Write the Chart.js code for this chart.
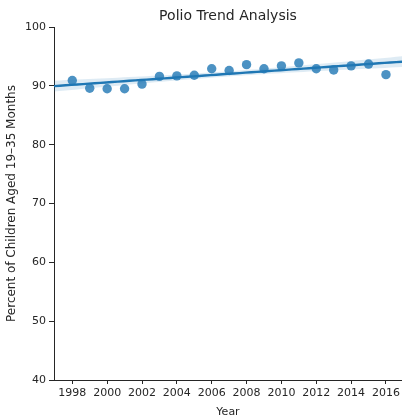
<!DOCTYPE html>
<html>
<head>
<meta charset="utf-8">
<script src="https://cdn.jsdelivr.net/npm/chart.js@4.4.1/dist/chart.umd.min.js"></script>
<style>
html,body{margin:0;padding:0;background:#fff;}
#wrap{width:402px;height:419px;}
</style>
</head>
<body>
<div id="wrap"><canvas id="c" width="402" height="419"></canvas></div>
<script>
const years = [1998,1999,2000,2001,2002,2003,2004,2005,2006,2007,2008,2009,2010,2011,2012,2013,2014,2015,2016];
const coverage = [90.9,89.6,89.5,89.5,90.3,91.6,91.7,91.8,92.9,92.6,93.6,92.9,93.4,93.9,92.9,92.7,93.4,93.7,91.9];
const xTicks = [1998,2000,2002,2004,2006,2008,2010,2012,2014,2016];
const yTicks = [40,50,60,70,80,90,100];
const xRange = [1996.95, 2016.92];
const yRange = [40, 100];

// least-squares fit with 95% confidence band (derived from the data)
const n = years.length;
const mx = years.reduce((a,b)=>a+b,0)/n;
const my = coverage.reduce((a,b)=>a+b,0)/n;
let sxx=0, sxy=0;
for(let i=0;i<n;i++){sxx+=(years[i]-mx)**2; sxy+=(years[i]-mx)*(coverage[i]-my);}
const slope = sxy/sxx, intercept = my - slope*mx;
let sse=0;
for(let i=0;i<n;i++){sse+=(coverage[i]-(intercept+slope*years[i]))**2;}
const s = Math.sqrt(sse/(n-2));
const tcrit = 2.11;
const grid = [];
for(let k=0;k<=60;k++){grid.push(xRange[0]+(xRange[1]-xRange[0])*k/60);}
const fitLine = grid.map(x=>({x, y: intercept+slope*x}));
const half = x => tcrit*s*Math.sqrt(1/n + (x-mx)**2/sxx);
const upper = grid.map(x=>({x, y: intercept+slope*x+half(x)}));
const lower = grid.map(x=>({x, y: intercept+slope*x-half(x)}));

const ink = '#262626';
const font = {family: 'DejaVu Sans', size: 11};

new Chart(document.getElementById('c'), {
  type: 'scatter',
  data: {
    datasets: [
      {label:'upper', data: upper, type:'line', borderWidth:0, pointRadius:0, fill:false, backgroundColor:'rgba(31,119,180,0.15)', order:3},
      {label:'lower', data: lower, type:'line', borderWidth:0, pointRadius:0, fill:'-1', backgroundColor:'rgba(31,119,180,0.15)', order:3},
      {label:'fit', data: fitLine, type:'line', borderColor:'#1f77b4', borderWidth:2.4, pointRadius:0, fill:false, order:2},
      {label:'Polio', data: years.map((y,i)=>({x:y, y:coverage[i]})), backgroundColor:'rgba(31,119,180,0.8)', borderWidth:0, pointRadius:4.7, order:1}
    ]
  },
  options: {
    responsive: false,
    animation: false,
    layout: {autoPadding: false, padding: {left:0, right:0, top:0, bottom:0}},
    plugins: {
      legend: {display:false},
      tooltip: {enabled:false},
      title: {display:true, fullSize:false, text:'Polio Trend Analysis', color: ink, font:{family:'DejaVu Sans', size:14, weight:'normal'}, padding:{top:8, bottom:2.2}}
    },
    scales: {
      x: {
        type:'linear', min:xRange[0], max:xRange[1],
        afterBuildTicks: sc => { sc.ticks = xTicks.map(v=>({value:v})); },
        afterFit: sc => { sc.height = 39; sc.paddingRight = 0; sc.paddingLeft = 0; },
        grid: {display:true, drawOnChartArea:false, drawTicks:true, tickLength:4, color:ink, tickWidth:1},
        border: {display:true, color:ink, width:1},
        ticks: {color:ink, font, padding:3, maxRotation:0, autoSkip:false, callback: v => String(v)},
        title: {display:true, text:'Year', color:ink, font, padding:{top:0, bottom:0}}
      },
      y: {
        type:'linear', min:yRange[0], max:yRange[1],
        afterBuildTicks: sc => { sc.ticks = yTicks.map(v=>({value:v})); },
        afterFit: sc => { sc.width = 54; sc.paddingTop = 0; sc.paddingBottom = 0; },
        grid: {display:true, drawOnChartArea:false, drawTicks:true, tickLength:5, color:ink, tickWidth:1},
        border: {display:true, color:ink, width:1},
        ticks: {color:ink, font, padding:3, callback: v => String(v)},
        title: {display:true, text:'Percent of Children Aged 19–35 Months', color:ink, font:{family:'DejaVu Sans', size:12}, padding:{top:5, bottom:0}}
      }
    }
  }
});
</script>
</body>
</html>
